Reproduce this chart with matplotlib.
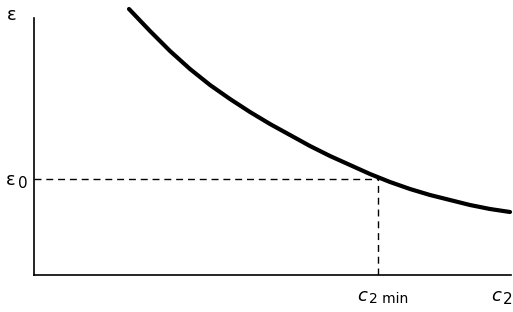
import numpy as np
import matplotlib.pyplot as plt

# curve (arbitrary units)
c2 = [95, 116, 136, 156, 176, 196, 216, 236, 256, 276, 296, 316, 336, 356, 376, 396, 416, 436, 456, 476]
eps = [266, 244, 224, 206, 190, 176, 163, 151, 140, 129, 119, 110, 101, 93, 86, 80, 75, 70, 66, 63]
c2_min = 344
eps_0 = 96

fig = plt.figure(figsize=(5.13, 3.12), dpi=100)
ax = fig.add_axes([34/513, 37/312, 477/513, 275/312])
ax.set_xlim(0, 477)
ax.set_ylim(0, 275)

ax.plot(c2, eps, color='black', lw=3, solid_capstyle='round',
        solid_joinstyle='round', clip_on=False)
ax.plot([0, c2_min], [eps_0, eps_0], color='black', lw=1, dashes=(5, 3.5))
ax.plot([c2_min, c2_min], [0, eps_0], color='black', lw=1, dashes=(5, 3.5))

for s in ['top', 'right']:
    ax.spines[s].set_visible(False)
ax.spines['left'].set_bounds(0, 257)
ax.spines['left'].set_linewidth(1.2)
ax.spines['bottom'].set_linewidth(1.2)
ax.set_xticks([])
ax.set_yticks([])

kw = dict(color='black', clip_on=False, va='center', ha='left')
ax.text(-27, 260, 'ε', fontsize=13, **kw)
ax.text(-28, 95, 'ε', fontsize=13, **kw)
ax.text(-16, 92, '0', fontsize=11, **kw)
ax.text(323, -21, 'c', fontsize=13, style='italic', **kw)
ax.text(335, -24, '2 min', fontsize=10, **kw)
ax.text(457, -21, 'c', fontsize=13, style='italic', **kw)
ax.text(469, -24, '2', fontsize=11, **kw)

fig.savefig('out.png', dpi=100)
